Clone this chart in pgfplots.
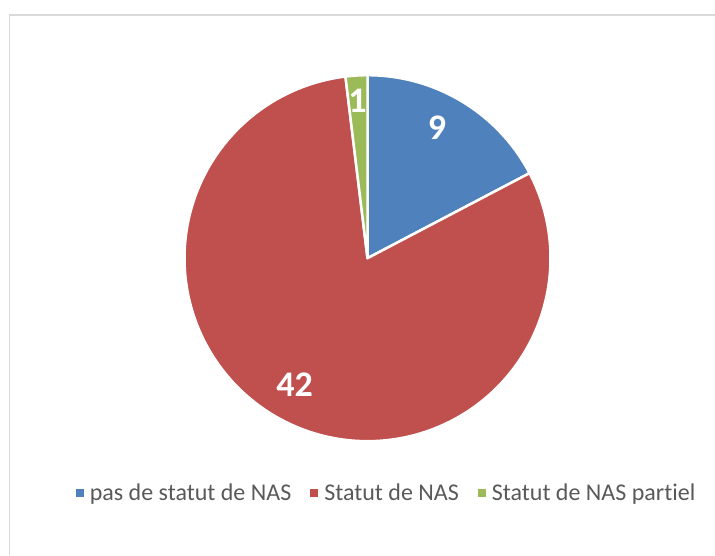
\documentclass[border=0pt]{standalone}
\usepackage{pgfplots}
\pgfplotsset{compat=1.18}
\usepackage{fontspec}
\setmainfont{Carlito}[Ligatures=NoCommon]
\definecolor{cA}{HTML}{4F81BD}
\definecolor{cB}{HTML}{C0504D}
\definecolor{cC}{HTML}{9BBB59}
\definecolor{framec}{HTML}{D9D9D9}
\definecolor{txt}{HTML}{595959}
\begin{document}
\begin{tikzpicture}[x=1pt,y=1pt]
\useasboundingbox (0pt,0pt) rectangle (715pt,555pt);
\draw[framec, line width=1.5pt] (9.5pt,0pt) -- (9.5pt,540pt) -- (715pt,540pt);
% data values
\def\va{9}
\def\vb{42}
\def\vc{1}
\pgfmathsetmacro{\tot}{\va+\vb+\vc}
\pgfmathsetmacro{\aA}{90-360*\va/\tot}
\pgfmathsetmacro{\aB}{\aA-360*\vb/\tot}
\pgfmathsetmacro{\aC}{\aB-360*\vc/\tot}
\begin{axis}[
  at={(367.5pt,296.8pt)}, anchor=center,
  scale only axis, width=366pt, height=366pt,
  xmin=-1, xmax=1, ymin=-1, ymax=1,
  hide axis, clip=false,
  legend image code/.code={\fill[#1,draw=none] (0pt,-4pt) rectangle (8pt,4pt);},
  legend style={at={(0.552,-0.142)}, anchor=center, draw=none, fill=none,
    font=\fontsize{24}{28}\selectfont, text=txt, legend columns=-1,
    /tikz/every odd column/.append style={column sep=4pt},
    /tikz/every even column/.append style={column sep=17pt}},
]
\addplot[fill=cA, draw=white, line width=2.5pt, line join=round, domain=\aA:90, samples=80, variable=\t] ({cos(\t)},{sin(\t)}) -- (0,0) -- cycle;
\addlegendentry{pas de statut de NAS}
\addplot[fill=cB, draw=white, line width=2.5pt, line join=round, domain=\aB:\aA, samples=200, variable=\t] ({cos(\t)},{sin(\t)}) -- (0,0) -- cycle;
\addlegendentry{Statut de NAS}
\addplot[fill=cC, draw=white, line width=2.5pt, line join=round, domain=\aC:\aB, samples=20, variable=\t] ({cos(\t)},{sin(\t)}) -- (0,0) -- cycle;
\addlegendentry{Statut de NAS partiel}
\node[text=white, font=\bfseries\fontsize{36}{40}\selectfont] at (0.380,0.714) {\va};
\node[text=white, font=\bfseries\fontsize{36}{40}\selectfont] at (-0.398,-0.691) {\vb};
\node[text=white, font=\bfseries\fontsize{36}{40}\selectfont] at (-0.054,0.860) {\vc};
\end{axis}
\end{tikzpicture}
\end{document}
